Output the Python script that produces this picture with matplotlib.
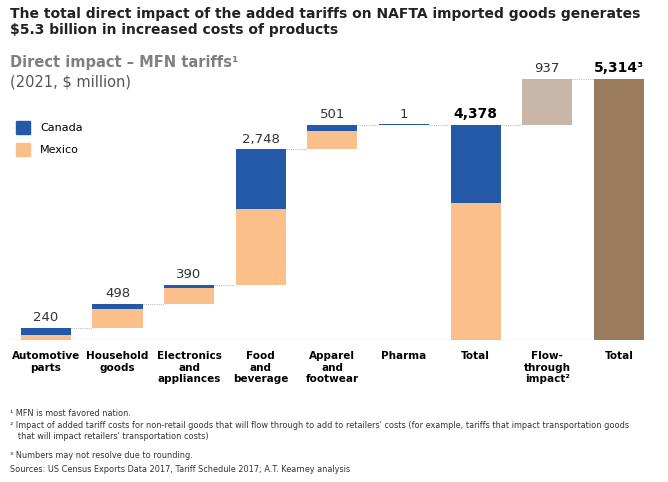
import matplotlib
matplotlib.use("Agg")
import matplotlib.pyplot as plt

categories = ["Automotive\nparts", "Household\ngoods", "Electronics\nand\nappliances", "Food\nand\nbeverage",
              "Apparel\nand\nfootwear", "Pharma", "Total", "Flow-\nthrough\nimpact²", "Total"]
canada = [130, 100, 70, 1220, 120, 1]
mexico = [110, 398, 320, 1528, 381, 0]
segment_labels = ["240", "498", "390", "2,748", "501", "1"]
total_direct = 4378
canada_total = 1585
flow_through = 937
grand_total = 5314

C_CAN = "#2459a8"; C_MEX = "#fbbf8c"; C_FLOW = "#c8b7a9"; C_TOT = "#9a7b5b"

fig = plt.figure(figsize=(6.68, 4.82), dpi=100)
ax = fig.add_axes([0.015, 1-340/482, 0.965, 290/482])
ax.set_xlim(-0.5, 8.5); ax.set_ylim(0, 5900)
w = 0.7
base = 0
tops = []
for i, (c, m) in enumerate(zip(canada, mexico)):
    ax.bar(i, m, w, bottom=base, color=C_MEX)
    ax.bar(i, max(c, 12), w, bottom=base + m, color=C_CAN)
    base += c + m
    tops.append(base)
    ax.text(i, base + 80, segment_labels[i], ha="center", va="bottom", fontsize=9.5, color="#333")
ax.bar(6, total_direct - canada_total, w, color=C_MEX)
ax.bar(6, canada_total, w, bottom=total_direct - canada_total, color=C_CAN)
ax.text(6, total_direct + 80, "4,378", ha="center", va="bottom", fontsize=10, fontweight="bold")
ax.bar(7, flow_through, w, bottom=total_direct, color=C_FLOW)
ax.text(7, grand_total + 80, "937", ha="center", va="bottom", fontsize=9.5, color="#333")
ax.bar(8, grand_total, w, color=C_TOT)
ax.text(8, grand_total + 80, "5,314³", ha="center", va="bottom", fontsize=10, fontweight="bold")
tops += [total_direct, grand_total]
for i in range(8):
    ax.plot([i + w/2, i + 1 - w/2], [tops[i], tops[i]], color="#999", lw=0.6, ls=":")
ax.axhline(0, color="#888", lw=0.8)
for s in ax.spines.values():
    s.set_visible(False)
ax.set_yticks([])
ax.set_xticks(range(9))
ax.set_xticklabels(categories, fontsize=7.5, fontweight="bold", va="top")
ax.tick_params(axis="x", length=0, pad=8)

fig.text(0.015, 0.985, "The total direct impact of the added tariffs on NAFTA imported goods generates\n$5.3 billion in increased costs of products",
         fontsize=10, fontweight="bold", va="top", color="#222")
fig.text(0.015, 0.885, "Direct impact – MFN tariffs¹", fontsize=10.5, fontweight="bold", color="#7f7f7f", va="top")
fig.text(0.015, 0.845, "(2021, $ million)", fontsize=10.5, color="#555", va="top")
for y, col, lab in [(128, C_CAN, "Canada"), (150, C_MEX, "Mexico")]:
    fig.patches.append(plt.Rectangle((16/668, 1-(y+6)/482), 14/668, 13/482, color=col, transform=fig.transFigure))
    fig.text(40/668, 1-y/482, lab, fontsize=8, va="center")
notes = ["¹ MFN is most favored nation.",
         "² Impact of added tariff costs for non-retail goods that will flow through to add to retailers' costs (for example, tariffs that impact transportation goods\n   that will impact retailers' transportation costs)",
         "³ Numbers may not resolve due to rounding.",
         "Sources: US Census Exports Data 2017, Tariff Schedule 2017; A.T. Kearney analysis"]
ys = [413, 431, 455, 470]
for y, n in zip(ys, notes):
    fig.text(0.015, 1-y/482, n, fontsize=5.9, va="center", color="#333", linespacing=1.4)
fig.savefig("out.png", dpi=100)
